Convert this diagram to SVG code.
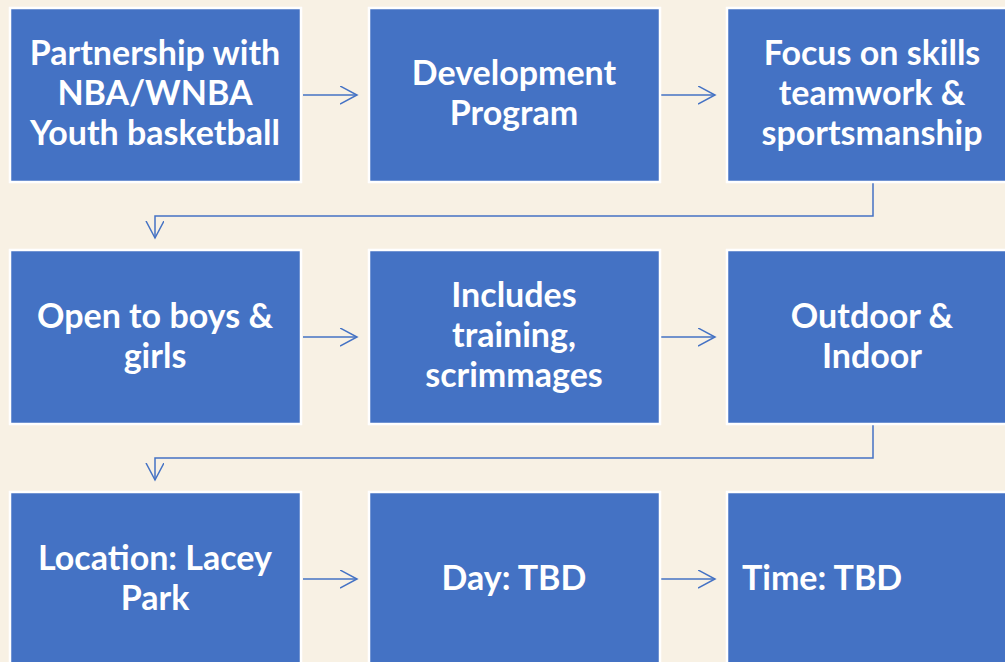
<svg xmlns="http://www.w3.org/2000/svg" width="1005" height="662" viewBox="0 0 1005 662">
<style>
.box{fill:#4472C4;stroke:#FFFFFF;stroke-width:2.5}
.t{font-family:Lato,"Liberation Sans",sans-serif;font-weight:bold;font-size:34px;fill:#FFFFFF;text-anchor:middle}
.c{fill:none;stroke:#4472C4;stroke-width:1.5}
</style>
<defs>
<marker id="ah" markerWidth="20" markerHeight="20" refX="17" refY="9" orient="auto" markerUnits="userSpaceOnUse">
<path d="M0,0 L17,9 L0,18" fill="none" stroke="#4472C4" stroke-width="1.5"/>
</marker>
</defs>
<rect width="1005" height="662" fill="#F8F1E4"/>
<g id="connectors">
<path class="c" d="M303,95 H357" marker-end="url(#ah)"/>
<path class="c" d="M661,95 H715" marker-end="url(#ah)"/>
<path class="c" d="M873,183 V216 H155 V238" marker-end="url(#ah)"/>
<path class="c" d="M303,337 H357" marker-end="url(#ah)"/>
<path class="c" d="M661,337 H715" marker-end="url(#ah)"/>
<path class="c" d="M873,425 V458 H155 V480" marker-end="url(#ah)"/>
<path class="c" d="M303,579 H357" marker-end="url(#ah)"/>
<path class="c" d="M661,579 H715" marker-end="url(#ah)"/>
</g>
<g id="n1"><rect class="box" x="10" y="8" width="291" height="174"/>
<text class="t" x="155" y="65">Partnership with</text><text class="t" x="155" y="105">NBA/WNBA</text><text class="t" x="155" y="145">Youth basketball</text></g>
<g id="n2"><rect class="box" x="369" y="8" width="291" height="174"/>
<text class="t" x="514" y="85">Development</text><text class="t" x="514" y="125">Program</text></g>
<g id="n3"><rect class="box" x="727" y="8" width="291" height="174"/>
<text class="t" x="872" y="65">Focus on skills</text><text class="t" x="872" y="105">teamwork &amp;</text><text class="t" x="872" y="145">sportsmanship</text></g>
<g id="n4"><rect class="box" x="10" y="250" width="291" height="174"/>
<text class="t" x="155" y="328">Open to boys &amp;</text><text class="t" x="155" y="368">girls</text></g>
<g id="n5"><rect class="box" x="369" y="250" width="291" height="174"/>
<text class="t" x="514" y="307">Includes</text><text class="t" x="514" y="347">training,</text><text class="t" x="514" y="387">scrimmages</text></g>
<g id="n6"><rect class="box" x="727" y="250" width="291" height="174"/>
<text class="t" x="872" y="328">Outdoor &amp;</text><text class="t" x="872" y="368">Indoor</text></g>
<g id="n7"><rect class="box" x="10" y="492" width="291" height="174"/>
<text class="t" x="155" y="570">Location: Lacey</text><text class="t" x="155" y="610">Park</text></g>
<g id="n8"><rect class="box" x="369" y="492" width="291" height="174"/>
<text class="t" x="514" y="590">Day: TBD</text></g>
<g id="n9"><rect class="box" x="727" y="492" width="291" height="174"/>
<text class="t" x="742" y="590" style="text-anchor:start">Time: TBD</text></g>
</svg>
